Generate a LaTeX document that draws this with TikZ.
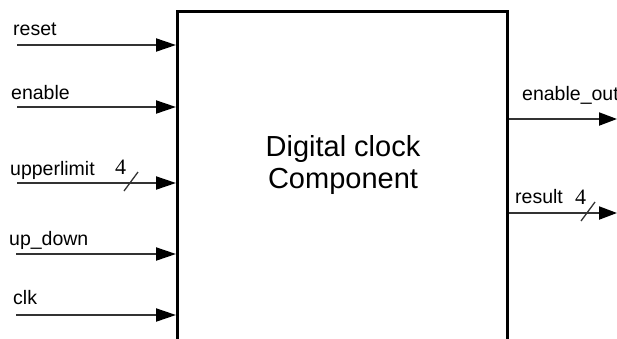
\documentclass[tikz,border=0pt]{standalone}
\usepackage{fontspec}
\setmainfont{Liberation Sans}
\newfontfamily\busfont{Liberation Serif}
\usetikzlibrary{arrows.meta}

\tikzset{
  wire/.style={draw=black!80, line width=2pt, -{Triangle[length=20pt,width=13pt,color=black]}},
  outwire/.style={draw=black!80, line width=2pt, -{Triangle[length=18pt,width=13pt,color=black]}},
  portlabel/.style={anchor=base west, inner sep=0pt, font=\fontsize{19.5}{21}\selectfont},
  buswidth/.style={anchor=base west, inner sep=0pt, font=\busfont\fontsize{22}{24}\selectfont},
  busmark/.style={draw=black!80, line width=1.3pt},
  block/.style={draw=black, line width=3pt, rectangle, inner sep=0pt}
}

\begin{document}
\begin{tikzpicture}[x=1pt, y=-1pt]
  \useasboundingbox (0,0) rectangle (617,338);

  % the component body (its lower edge lies below the page)
  \node[block, minimum width=330pt, minimum height=340pt, anchor=north west]
    (comp) at (176,10) {};
  \node[align=center, inner sep=0pt, font=\fontsize{29}{32}\selectfont]
    (title) at (343,165) {Digital clock\\Component};

  % inputs
  \coordinate (rst) at (17,45);
  \coordinate (en)  at (17,107);
  \coordinate (ul)  at (17,183);
  \coordinate (ud)  at (16,254);
  \coordinate (ck)  at (16,315);

  \node[portlabel] (lrst) at (13,35)  {reset};
  \node[portlabel] (len)  at (11,99)  {enable};
  \node[portlabel] (lul)  at (10,175) {upperlimit};
  \node[portlabel] (lud)  at (9,245)  {up\_down};
  \node[portlabel] (lck)  at (13,304) {clk};

  \draw[wire] (rst) -- (rst -| comp.west);
  \draw[wire] (en)  -- (en -| comp.west);
  \draw[wire] (ul)  -- (ul -| comp.west);
  \draw[wire] (ud)  -- (ud -| comp.west);
  \draw[wire] (ck)  -- (ck -| comp.west);

  % bus width marker on upperlimit
  \coordinate (ulbus) at (131,182);
  \draw[busmark] ([shift={(-7,9)}]ulbus) -- ([shift={(7,-10)}]ulbus);
  \node[buswidth] (ulw) at (115,174) {4};

  % outputs
  \coordinate (eo) at (617,119);
  \coordinate (rs) at (617,213);

  \node[portlabel] (leo) at (522,100) {enable\_out};
  \node[portlabel] (lrs) at (515,203) {result};

  \draw[outwire] (eo -| comp.east) -- (eo);
  \draw[outwire] (rs -| comp.east) -- (rs);

  % bus width marker on result
  \coordinate (rsbus) at (588,212);
  \draw[busmark] ([shift={(-7,9)}]rsbus) -- ([shift={(7,-10)}]rsbus);
  \node[buswidth] (rsw) at (575,204) {4};
\end{tikzpicture}
\end{document}
